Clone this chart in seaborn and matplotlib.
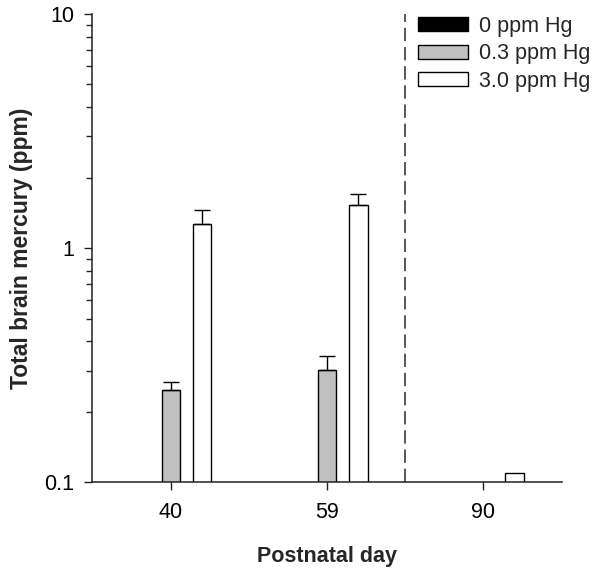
import numpy as np
import pandas as pd
import matplotlib
matplotlib.use("Agg")
import matplotlib.pyplot as plt
import seaborn as sns

# data (values below 0.1 are not visible on the chart)
days = ["40", "59", "90"]
groups = ["0 ppm Hg", "0.3 ppm Hg", "3.0 ppm Hg"]
hg_0 = [0.05, 0.05, 0.05]
hg_03 = [0.247, 0.301, 0.05]
hg_30 = [1.27, 1.53, 0.110]
err_0 = [0.0, 0.0, 0.0]
err_03 = [0.020, 0.044, 0.0]
err_30 = [0.18, 0.17, 0.0]

colors = ["black", "#c0c0c0", "white"]

df = pd.DataFrame({
    "day": days * 3,
    "group": [g for g in groups for _ in days],
    "hg": hg_0 + hg_03 + hg_30,
})
errs = [err_0, err_03, err_30]

sns.set_style("ticks")
plt.rcParams["font.family"] = ["Liberation Sans", "DejaVu Sans"]

fig = plt.figure(figsize=(6.01, 5.72), dpi=100)
ax = fig.add_axes([0.153, 0.157, 0.782, 0.8185])
ax.set_yscale("log")

sns.barplot(data=df, x="day", y="hg", hue="group", order=days, hue_order=groups,
            palette=colors, edgecolor="black", linewidth=1.0, width=0.6, gap=0.4,
            errorbar=None, ax=ax)

# upward-only error bars
for cont, e in zip(ax.containers, errs):
    xs = [p.get_x() + p.get_width() / 2 for p in cont.patches]
    hs = [p.get_height() for p in cont.patches]
    e = np.array(e)
    keep = e > 0
    if keep.any():
        ax.errorbar(np.array(xs)[keep], np.array(hs)[keep],
                    yerr=[np.zeros(keep.sum()), e[keep]], fmt="none",
                    ecolor="black", elinewidth=1.0, capsize=5.5, capthick=1.0)

ax.axvline(1.5, color="#3a3a3a", linestyle=(0, (8, 3.5)), linewidth=1.2)

ax.set_ylim(0.1, 10)
ax.set_xlim(-0.506, 2.506)
ax.set_yticks([0.1, 1, 10], labels=["0.1", "1", "10"])
ax.tick_params(axis="both", which="major", labelsize=15.5, length=6, width=1,
               direction="out", colors="#222222")
ax.tick_params(axis="y", which="minor", length=4, width=1, direction="out")
ax.tick_params(axis="x", which="major", pad=8)
ax.tick_params(axis="y", which="major", pad=7)
for lab in ax.get_xticklabels() + ax.get_yticklabels():
    lab.set_color("black")

sns.despine(ax=ax)
for s in ["left", "bottom"]:
    ax.spines[s].set_linewidth(1.1)
    ax.spines[s].set_color("#222222")

ax.set_xlabel("Postnatal day", fontsize=15.5, fontweight="bold", labelpad=17)
ax.set_ylabel("Total brain mercury (ppm)", fontsize=16.5, fontweight="bold", labelpad=8)

ax.legend_.remove()
leg = fig.legend(*ax.get_legend_handles_labels(), loc="upper left",
                 bbox_to_anchor=(418 / 601, 1 - 16 / 572), frameon=False,
                 fontsize=15.5, handlelength=2.3, handleheight=0.62,
                 handletextpad=0.55, labelspacing=0.3, borderpad=0, borderaxespad=0)
for h in leg.legend_handles:
    h.set_edgecolor("black")
    h.set_linewidth(1.0)

fig.savefig("out.png", dpi=100)
